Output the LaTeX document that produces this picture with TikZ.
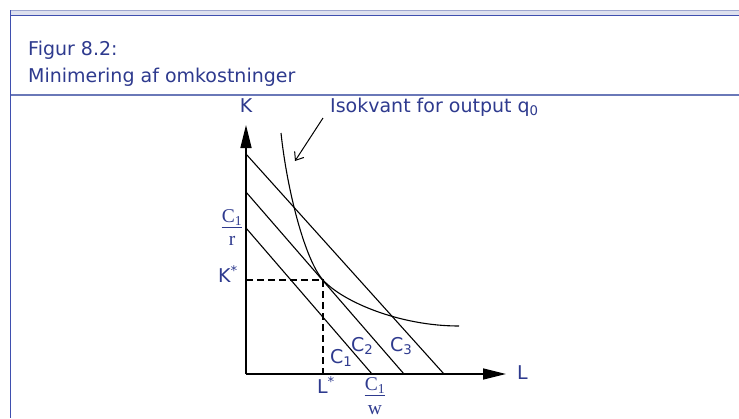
\documentclass[tikz,border=0pt]{standalone}
\usepackage{fontspec}
\setmainfont{DejaVu Sans}
\newfontfamily\fracfont{Liberation Serif}
\usetikzlibrary{positioning,arrows.meta}
\definecolor{textblue}{HTML}{2E3A8E}
\definecolor{framedk}{HTML}{3F4FAF}
\definecolor{framelt}{HTML}{9EA6CF}
\definecolor{bandfill}{HTML}{DDE0EE}
\definecolor{headline}{HTML}{6A78B8}

\begin{document}
\begin{tikzpicture}[x=1pt, y=-1pt,
    every node/.style={text=textblue, inner sep=0pt},
    title/.style={font=\fontsize{19}{22}\selectfont, anchor=base west},
    lbl/.style={font=\fontsize{19}{22}\selectfont, anchor=base west},
    fracpart/.style={font=\fracfont\fontsize{19.5}{22}\selectfont, anchor=base},
    axis/.style={line width=1.4pt, -{Triangle[length=23pt,width=11pt]}},
    budget/.style={line width=1.1pt},
    guide/.style={line width=1.8pt, dash pattern=on 7pt off 4pt},
    pointer/.style={line width=1pt, -{Straight Barb[length=7pt,width=11pt]}}
  ]
  \useasboundingbox (0,0) rectangle (739,418);

  % frame
  \fill[bandfill] (10,10.5) rectangle (739,15.5);
  \draw[framelt, line width=1pt] (10,10.5) -- (739,10.5);
  \draw[framedk, line width=1.6pt] (10,15.5) -- (739,15.5);
  \draw[framedk, line width=1.6pt] (10.5,10) -- (10.5,418);
  \draw[headline, line width=1.6pt] (10.5,95) -- (739,95);

  \node[title] (fig) at (28,55) {Figur 8.2:};
  \node[title] (sub) at (28,82) {Minimering af omkostninger};

  % axes
  \coordinate (O) at (246,374);
  \coordinate (ytip) at (246,125);
  \coordinate (xtip) at (506,374);
  \draw[axis] (O) -- (ytip);
  \draw[axis] (O) -- (xtip);
  \node[lbl, anchor=base] (K) at (246,112) {K};
  \node[lbl] (L) at (517,379) {L};

  % isocost lines
  \coordinate (c1a) at (246,228);
  \coordinate (c1b) at (372,374);
  \coordinate (c2a) at (246,192);
  \coordinate (c2b) at (404,374);
  \coordinate (c3a) at (246,154);
  \coordinate (c3b) at (444,374);
  \draw[budget] (c1a) -- (c1b);
  \draw[budget] (c2a) -- (c2b);
  \draw[budget] (c3a) -- (c3b);
  \node[lbl] (C1) at (330,363) {C\textsubscript{1}};
  \node[lbl] (C2) at (351,351) {C\textsubscript{2}};
  \node[lbl] (C3) at (390,351) {C\textsubscript{3}};

  % isoquant
  \coordinate (qa) at (281,133);
  \coordinate (T) at (323,280);
  \coordinate (qb) at (459,326);
  \draw[budget] (qa) .. controls (287,190) and (305,260) .. (T)
                     .. controls (343,302) and (400,326) .. (qb);

  % optimum
  \coordinate (Ky) at (246,280);
  \coordinate (Lx) at (323,374);
  \draw[guide] (Ky) -- (T) -- (Lx);
  \node[lbl, anchor=base east] (Kstar) at (238,282) {K\textsuperscript{*}};
  \node[lbl, anchor=base] (Lstar) at (326,393) {L\textsuperscript{*}};

  % intercepts
  \node[fracpart] (crnum) at (232,222) {C\textsubscript{1}};
  \node[fracpart] (crden) at (232,245) {r};
  \draw[textblue, line width=0.8pt] ([yshift=-5pt]crnum.base west) -- ([yshift=-5pt]crnum.base east);
  \node[fracpart] (cwnum) at (375,390) {C\textsubscript{1}};
  \node[fracpart] (cwden) at (375,414) {w};
  \draw[textblue, line width=0.8pt] ([yshift=-5pt]cwnum.base west) -- ([yshift=-5pt]cwnum.base east);

  % label for isoquant
  \node[lbl] (iso) at (330,112) {Isokvant for output q\textsubscript{0}};
  \coordinate (pstart) at (323,118);
  \coordinate (ptip) at (295,161);
  \draw[pointer] (pstart) -- (ptip);
\end{tikzpicture}
\end{document}
